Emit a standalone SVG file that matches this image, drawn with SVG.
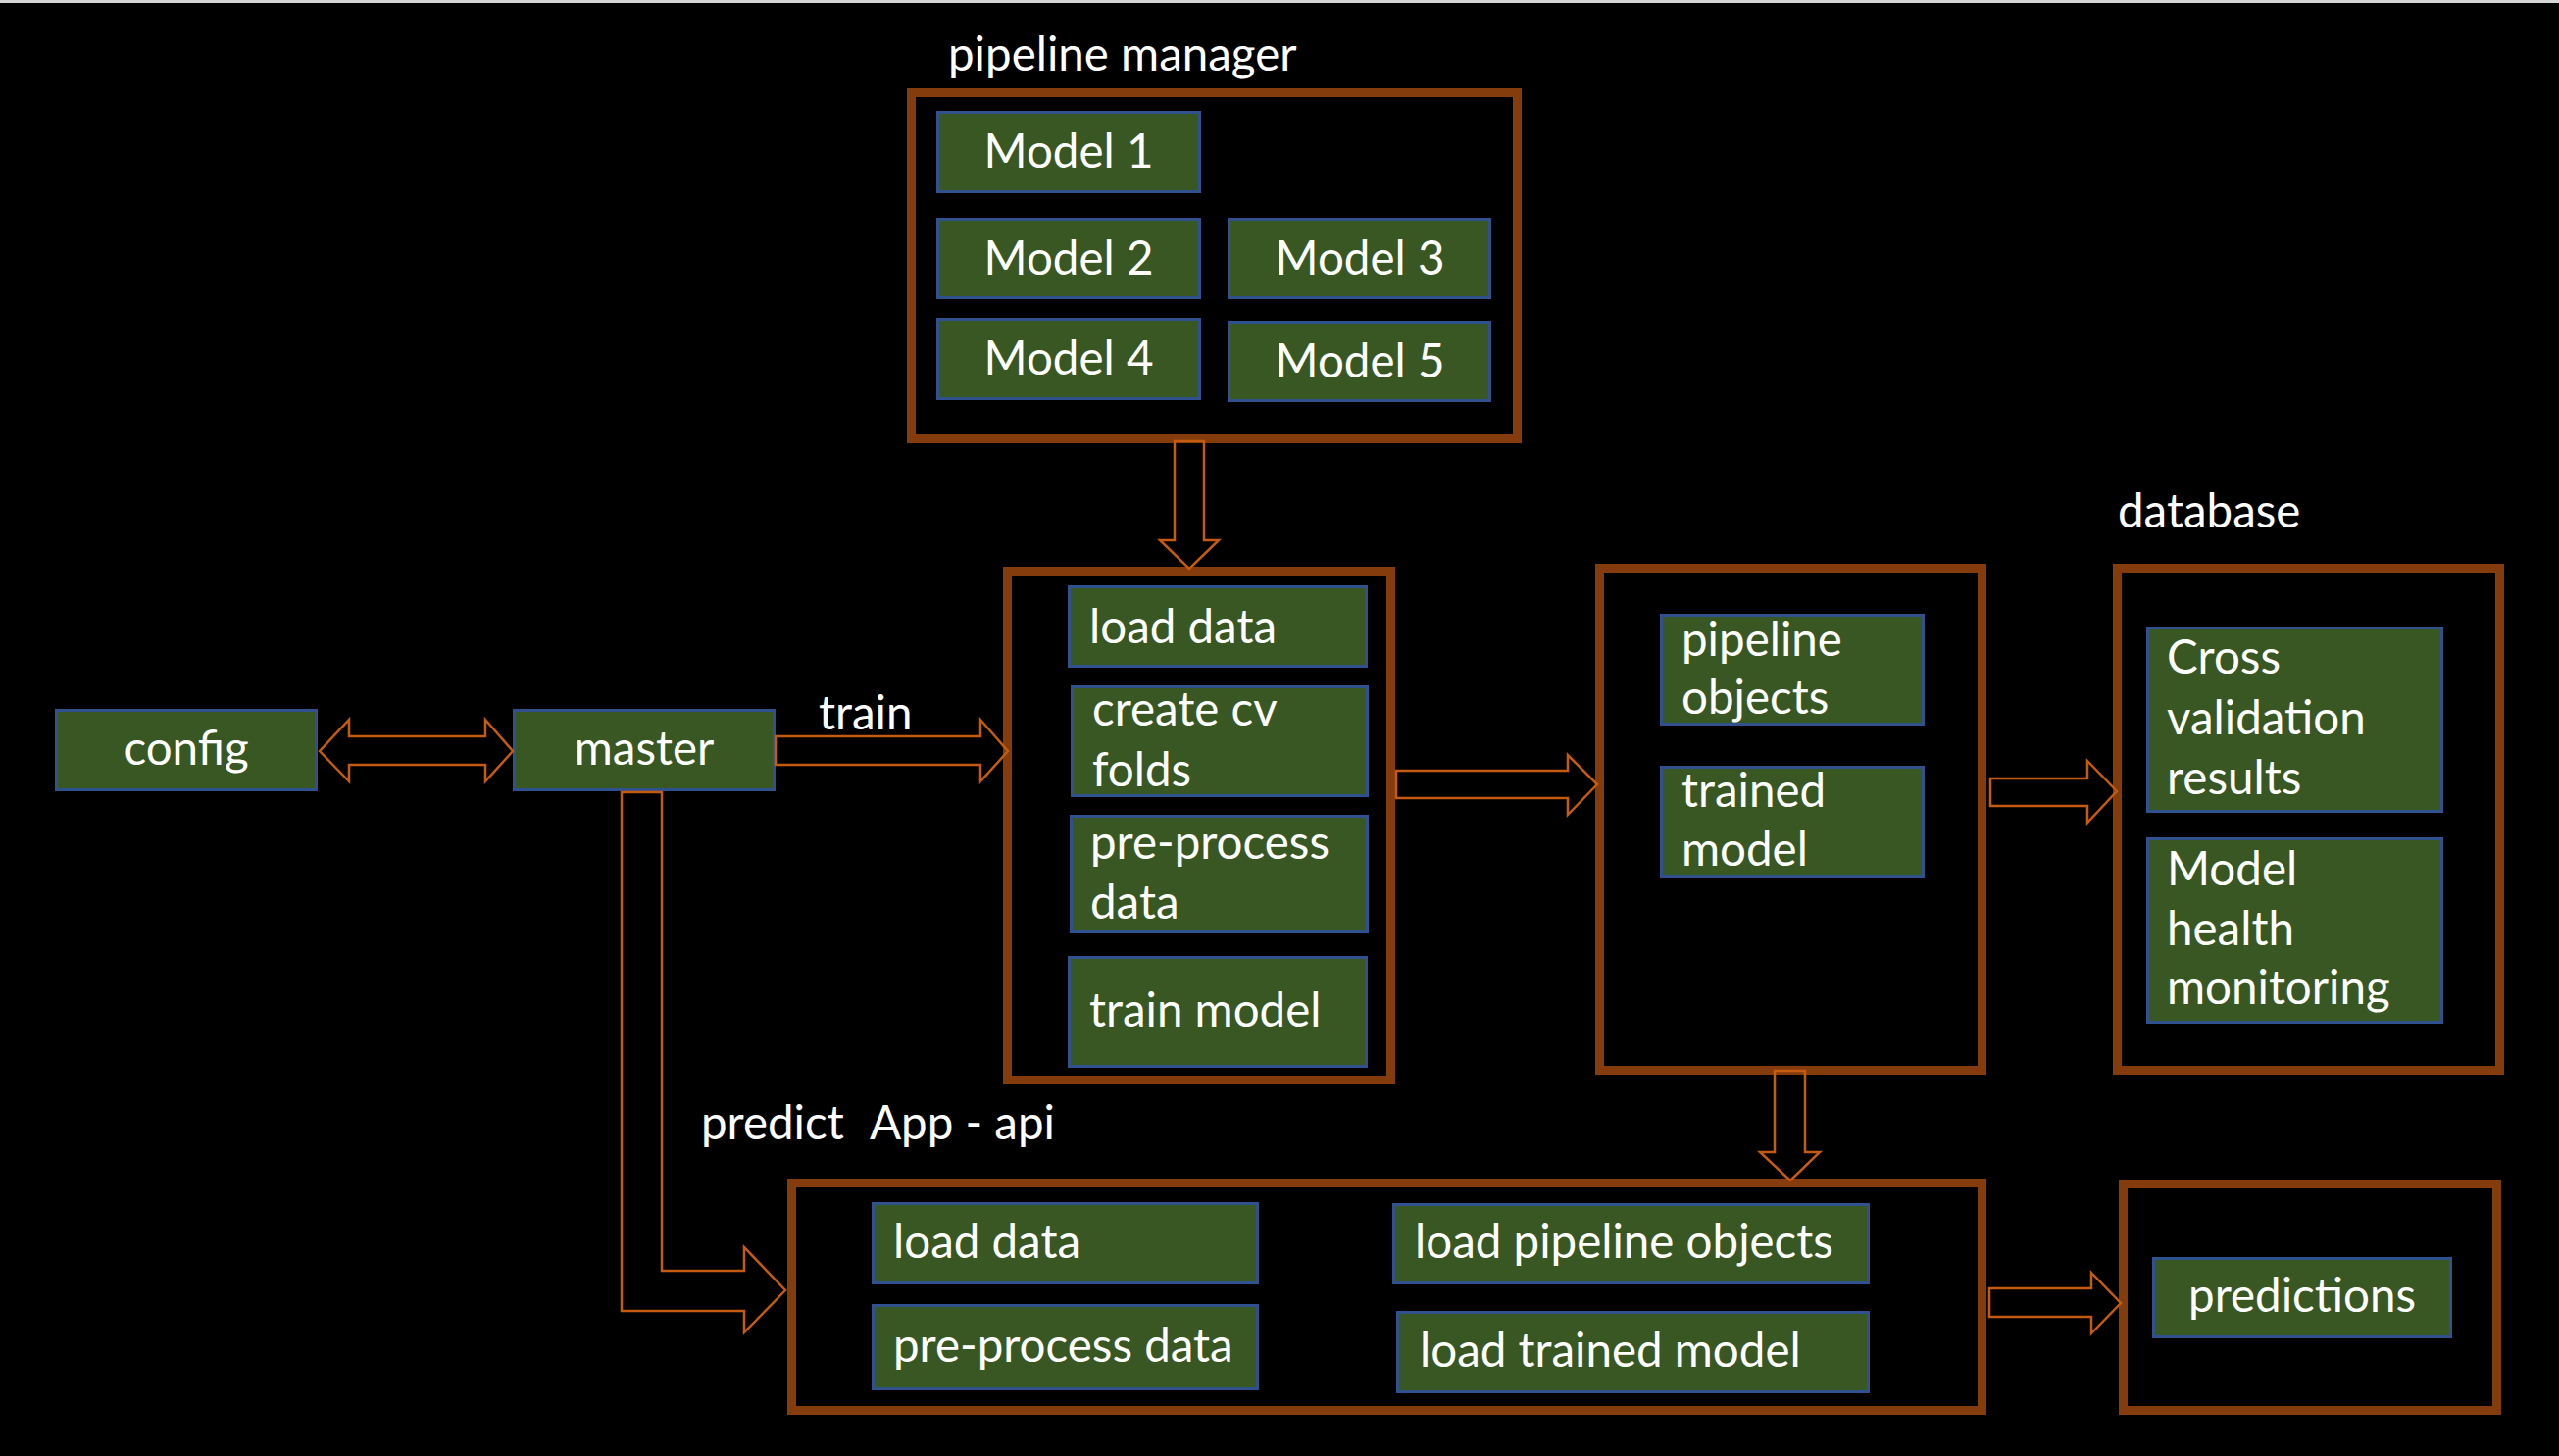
<svg xmlns="http://www.w3.org/2000/svg" width="2610" height="1485" viewBox="0 0 2610 1485">
<defs>
<style>
.bg{fill:#000}
.cont{fill:none;stroke:#843C0C;stroke-width:9}
.box{fill:#385723;stroke:#2F528F;stroke-width:3}
.t{font-family:Lato,"Liberation Sans",sans-serif;font-size:47.5px;fill:#fff}
.c{text-anchor:middle}
.arr{fill:none;stroke:#C55A11;stroke-width:2.5;stroke-linejoin:miter}
</style>
</defs>
<rect class="bg" x="0" y="0" width="2610" height="1485"/>
<rect x="0" y="0" width="2610" height="3" fill="#d4d4d4"/>

<g id="pipeline-manager">
<text class="t" x="967" y="72">pipeline manager</text>
<rect class="cont" x="929.5" y="94.5" width="618" height="353"/>
<g id="model1"><rect class="box" x="956.5" y="114.5" width="267" height="81"/><text class="t c" x="1090" y="171">Model 1</text></g>
<g id="model2"><rect class="box" x="956.5" y="223.5" width="267" height="80"/><text class="t c" x="1090" y="280">Model 2</text></g>
<g id="model3"><rect class="box" x="1253.5" y="223.5" width="266" height="80"/><text class="t c" x="1387" y="280">Model 3</text></g>
<g id="model4"><rect class="box" x="956.5" y="325.5" width="267" height="81"/><text class="t c" x="1090" y="382">Model 4</text></g>
<g id="model5"><rect class="box" x="1253.5" y="328.5" width="266" height="80"/><text class="t c" x="1387" y="385">Model 5</text></g>
</g>

<g id="config"><rect class="box" x="57.5" y="724.5" width="265" height="81"/><text class="t c" x="190" y="780">config</text></g>
<g id="master"><rect class="box" x="524.5" y="724.5" width="265" height="81"/><text class="t c" x="657" y="780">master</text></g>

<g id="train-box">
<rect class="cont" x="1027.5" y="582.5" width="391" height="519"/>
<g id="t-load"><rect class="box" x="1090.5" y="598.5" width="303" height="81"/><text class="t" x="1111" y="656">load data</text></g>
<g id="t-cv"><rect class="box" x="1093.5" y="700.5" width="301" height="111"/><text class="t" x="1114" y="740">create cv</text><text class="t" x="1114" y="802">folds</text></g>
<g id="t-pre"><rect class="box" x="1092.5" y="832.5" width="302" height="118"/><text class="t" x="1112" y="876">pre-process</text><text class="t" x="1112" y="937">data</text></g>
<g id="t-train"><rect class="box" x="1090.5" y="976.5" width="303" height="111"/><text class="t" x="1111" y="1047">train model</text></g>
</g>

<g id="artifacts">
<rect class="cont" x="1631.5" y="579.5" width="390" height="512"/>
<g id="pipeline-objects"><rect class="box" x="1694.5" y="627.5" width="267" height="111"/><text class="t" x="1715" y="669">pipeline</text><text class="t" x="1715" y="728">objects</text></g>
<g id="trained-model"><rect class="box" x="1694.5" y="782.5" width="267" height="111"/><text class="t" x="1715" y="823">trained</text><text class="t" x="1715" y="883">model</text></g>
</g>

<g id="database">
<text class="t" x="2160" y="538">database</text>
<rect class="cont" x="2159.5" y="579.5" width="390" height="512"/>
<g id="cv-results"><rect class="box" x="2190.5" y="640.5" width="300" height="187"/><text class="t" x="2210" y="687">Cross</text><text class="t" x="2210" y="749">validation</text><text class="t" x="2210" y="810">results</text></g>
<g id="health"><rect class="box" x="2190.5" y="855.5" width="300" height="187"/><text class="t" x="2210" y="903">Model</text><text class="t" x="2210" y="964">health</text><text class="t" x="2210" y="1024">monitoring</text></g>
</g>

<g id="app">
<text class="t" x="715" y="1162">predict</text>
<text class="t" x="887" y="1162">App - api</text>
<rect class="cont" x="807.5" y="1206.5" width="1214" height="232"/>
<g id="a-load"><rect class="box" x="890.5" y="1227.5" width="392" height="81"/><text class="t" x="911" y="1283">load data</text></g>
<g id="a-pre"><rect class="box" x="890.5" y="1331.5" width="392" height="85"/><text class="t" x="911" y="1389">pre-process data</text></g>
<g id="a-pipe"><rect class="box" x="1421.5" y="1228.5" width="484" height="80"/><text class="t" x="1443" y="1283">load pipeline objects</text></g>
<g id="a-model"><rect class="box" x="1425.5" y="1338.5" width="480" height="81"/><text class="t" x="1448" y="1394">load trained model</text></g>
</g>

<g id="predictions">
<rect class="cont" x="2165.5" y="1207.5" width="381" height="231"/>
<rect class="box" x="2196.5" y="1283.5" width="303" height="80"/>
<text class="t c" x="2348" y="1338">predictions</text>
</g>

<g id="connectors">
<polygon class="arr" points="326,766 356,734 356,751 495,751 495,734 523,766 495,797 495,780 356,780 356,797"/>
<text class="t" x="835" y="744">train</text>
<polygon class="arr" points="791,751 1000,751 1000,734 1028,766 1000,797 1000,780 791,780"/>
<polygon class="arr" points="1198,450 1228,450 1228,551 1243,551 1213,580 1183,551 1198,551"/>
<polygon class="arr" points="1424,786 1599,786 1599,770 1629,800 1599,831 1599,814 1424,814"/>
<polygon class="arr" points="2030,794 2129,794 2129,776 2159,807 2129,839 2129,822 2030,822"/>
<polygon class="arr" points="1810,1092 1841,1092 1841,1175 1856,1175 1826,1204 1795,1175 1810,1175"/>
<polygon class="arr" points="634,808 675,808 675,1296 759,1296 759,1272 801,1316 759,1359 759,1337 634,1337"/>
<polygon class="arr" points="2029,1314 2133,1314 2133,1298 2163,1329 2133,1360 2133,1343 2029,1343"/>
</g>
</svg>
